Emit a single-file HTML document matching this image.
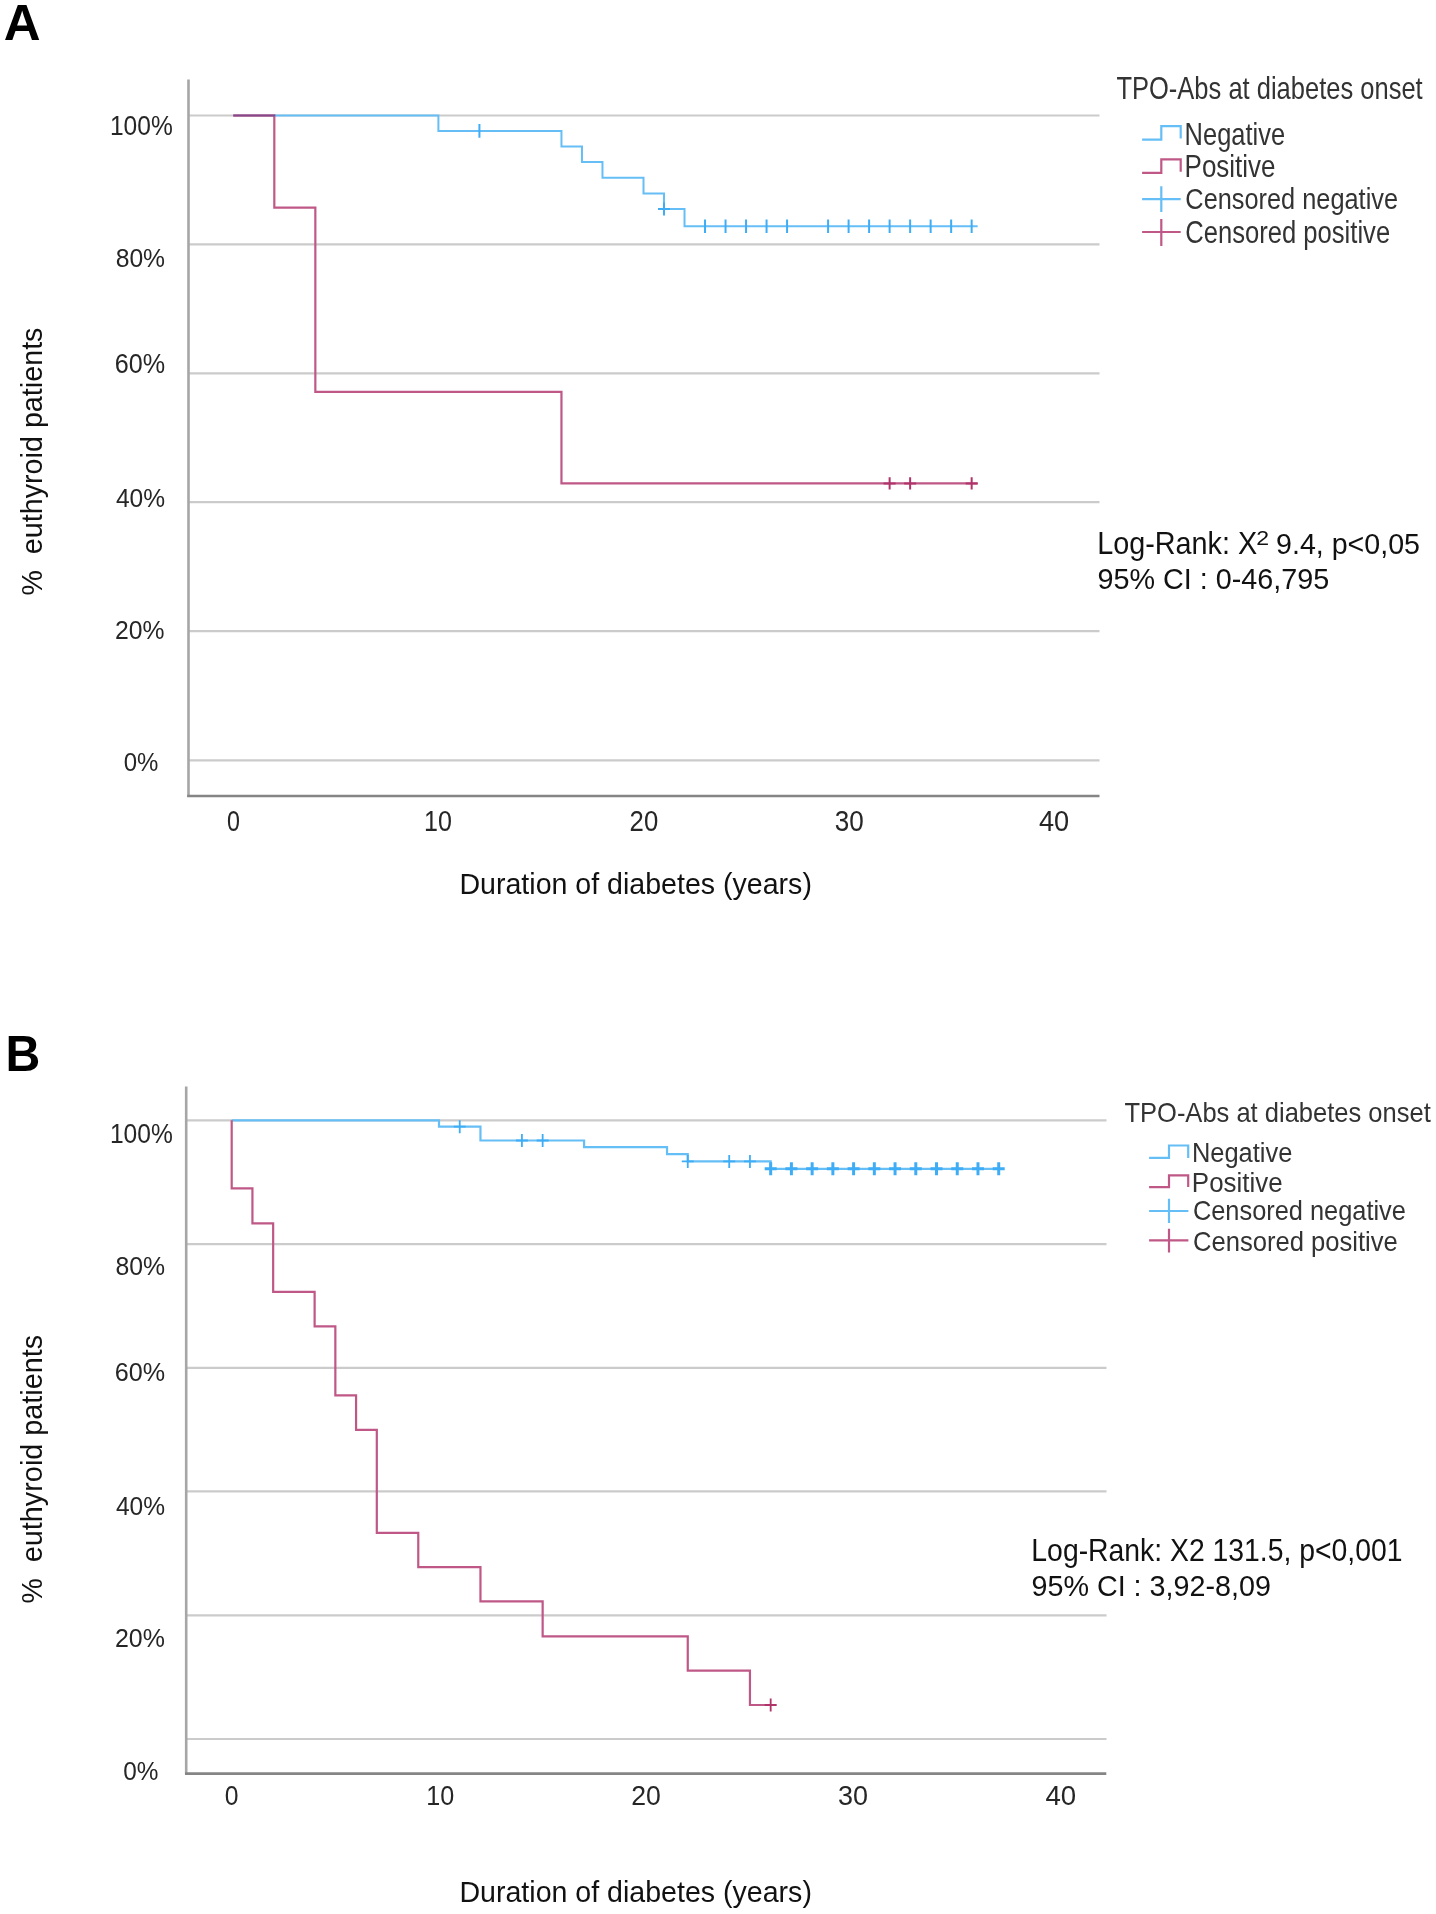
<!DOCTYPE html>
<html><head><meta charset="utf-8"><title>Kaplan-Meier curves</title>
<style>html,body{margin:0;padding:0;background:#fff;width:1436px;height:1914px;overflow:hidden}
text{font-family:"Liberation Sans",sans-serif}</style></head>
<body>
<svg width="1436" height="1914" viewBox="0 0 1436 1914" style="display:block;will-change:transform">
<rect width="100%" height="100%" fill="#fff"/>
<line x1="188" y1="115.5" x2="1099.5" y2="115.5" stroke="#cbcbcb" stroke-width="2.2"/>
<line x1="188" y1="244.3" x2="1099.5" y2="244.3" stroke="#cbcbcb" stroke-width="2.2"/>
<line x1="188" y1="373.3" x2="1099.5" y2="373.3" stroke="#cbcbcb" stroke-width="2.2"/>
<line x1="188" y1="502.1" x2="1099.5" y2="502.1" stroke="#cbcbcb" stroke-width="2.2"/>
<line x1="188" y1="631.2" x2="1099.5" y2="631.2" stroke="#cbcbcb" stroke-width="2.2"/>
<line x1="188" y1="760.3" x2="1099.5" y2="760.3" stroke="#cbcbcb" stroke-width="2.2"/>
<line x1="188.5" y1="79.5" x2="188.5" y2="797" stroke="#a6a6a6" stroke-width="2.6"/>
<line x1="187.2" y1="796" x2="1099.5" y2="796" stroke="#858585" stroke-width="2.6"/>
<path d="M233.30,115.50 H274.32 V207.70 H315.34 V391.80 H561.46 V483.40 H971.66 h6" fill="none" stroke="#bf5886" stroke-width="2.2"/>
<path d="M883.62,483.40 H895.62 M889.62,477.20 V489.60M904.13,483.40 H916.13 M910.13,477.20 V489.60M965.66,483.40 H977.66 M971.66,477.20 V489.60" fill="none" stroke="#b0336a" stroke-width="2"/>
<path d="M274.32,115.5 H438.40 V130.90 H561.46 V146.40 H581.97 V162.00 H602.48 V177.70 H643.50 V193.60 H664.01 V209.00 H684.52 V226.20 H971.66 h6" fill="none" stroke="#66bef6" stroke-width="2"/>
<line x1="233.30" y1="115.5" x2="275.32" y2="115.5" stroke="#86498c" stroke-width="2.2"/>
<path d="M479.42,124.10 V137.70M658.01,209.00 H670.01 M664.01,202.50 V215.50M705.03,219.40 V233.00M725.54,219.40 V233.00M746.05,219.40 V233.00M766.56,219.40 V233.00M787.07,219.40 V233.00M828.09,219.40 V233.00M848.60,219.40 V233.00M869.11,219.40 V233.00M889.62,219.40 V233.00M910.13,219.40 V233.00M930.64,219.40 V233.00M951.15,219.40 V233.00M971.66,219.40 V233.00" fill="none" stroke="#3fadf6" stroke-width="2"/>
<path d="M1142.1,139.6 H1161.3 V126.2 H1180.7 V138.4" fill="none" stroke="#66bef6" stroke-width="2.2"/>
<path d="M1142.1,172.8 H1161.3 V159.4 H1180.7 V171.8" fill="none" stroke="#bf5886" stroke-width="2.2"/>
<path d="M1142.1,199.2 H1180.7 M1161.3,186.3 V212.1" fill="none" stroke="#66bef6" stroke-width="2.2"/>
<path d="M1142.1,232 H1180.7 M1161.3,219.1 V246" fill="none" stroke="#bf5886" stroke-width="2.2"/>
<line x1="186" y1="1120.3" x2="1106.5" y2="1120.3" stroke="#cbcbcb" stroke-width="2.2"/>
<line x1="186" y1="1244.2" x2="1106.5" y2="1244.2" stroke="#cbcbcb" stroke-width="2.2"/>
<line x1="186" y1="1367.8" x2="1106.5" y2="1367.8" stroke="#cbcbcb" stroke-width="2.2"/>
<line x1="186" y1="1491.3" x2="1106.5" y2="1491.3" stroke="#cbcbcb" stroke-width="2.2"/>
<line x1="186" y1="1615.4" x2="1106.5" y2="1615.4" stroke="#cbcbcb" stroke-width="2.2"/>
<line x1="186" y1="1739.0" x2="1106.5" y2="1739.0" stroke="#cbcbcb" stroke-width="2.2"/>
<line x1="186.2" y1="1086.5" x2="186.2" y2="1774.5" stroke="#a6a6a6" stroke-width="2.6"/>
<line x1="185" y1="1773.6" x2="1106.3" y2="1773.6" stroke="#858585" stroke-width="2.6"/>
<path d="M231.70,1120.30 H439.00 V1126.70 H480.46 V1140.50 H584.11 V1147.10 H667.03 V1154.20 H687.76 V1161.40 H770.68 V1168.80 H998.71" fill="none" stroke="#66bef6" stroke-width="2.2"/>
<path d="M231.70,1120.30 H231.70 V1188.40 H252.43 V1223.40 H273.16 V1291.90 H314.62 V1326.40 H335.35 V1395.30 H356.08 V1429.80 H376.81 V1532.80 H418.27 V1567.10 H480.46 V1601.40 H542.65 V1636.30 H687.76 V1670.60 H749.95 V1705.00 H770.68" fill="none" stroke="#bf5886" stroke-width="2.2"/>
<path d="M764.68,1705.00 H776.68 M770.68,1698.50 V1711.50" fill="none" stroke="#b0336a" stroke-width="1.8"/>
<path d="M453.73,1126.70 H465.73 M459.73,1120.20 V1133.20M515.92,1140.50 H527.92 M521.92,1134.00 V1147.00M536.65,1140.50 H548.65 M542.65,1134.00 V1147.00M681.76,1161.40 H693.76 M687.76,1154.90 V1167.90M723.22,1161.40 H735.22 M729.22,1154.90 V1167.90M743.95,1161.40 H755.95 M749.95,1154.90 V1167.90" fill="none" stroke="#3fadf6" stroke-width="1.8"/>
<path d="M764.68,1168.80 H776.68 M770.68,1162.30 V1175.30M785.41,1168.80 H797.41 M791.41,1162.30 V1175.30M806.14,1168.80 H818.14 M812.14,1162.30 V1175.30M826.87,1168.80 H838.87 M832.87,1162.30 V1175.30M847.60,1168.80 H859.60 M853.60,1162.30 V1175.30M868.33,1168.80 H880.33 M874.33,1162.30 V1175.30M889.06,1168.80 H901.06 M895.06,1162.30 V1175.30M909.79,1168.80 H921.79 M915.79,1162.30 V1175.30M930.52,1168.80 H942.52 M936.52,1162.30 V1175.30M951.25,1168.80 H963.25 M957.25,1162.30 V1175.30M971.98,1168.80 H983.98 M977.98,1162.30 V1175.30M992.71,1168.80 H1004.71 M998.71,1162.30 V1175.30" fill="none" stroke="#3fadf6" stroke-width="3"/>
<path d="M1149.1,1157.9 H1169 V1145.5 H1188.2 V1157.9" fill="none" stroke="#66bef6" stroke-width="2.2"/>
<path d="M1149.1,1187.1 H1169 V1175.4 H1188.2 V1187.1" fill="none" stroke="#bf5886" stroke-width="2.2"/>
<path d="M1149.1,1211 H1188.4 M1169,1198.8 V1222.9" fill="none" stroke="#66bef6" stroke-width="2.2"/>
<path d="M1149.1,1240.4 H1188.4 M1169,1228.7 V1252.6" fill="none" stroke="#bf5886" stroke-width="2.2"/>
<g font-family="Liberation Sans, sans-serif" class="t">
<text transform="translate(3.78,39.90) scale(1.0055,1)" font-size="50.69" fill="#000" font-weight="bold">A</text>
<text transform="translate(109.96,135.03) scale(0.9011,1)" font-size="27.28" fill="#262626">100%</text>
<text transform="translate(115.65,266.93) scale(0.9298,1)" font-size="26.57" fill="#262626">80%</text>
<text transform="translate(114.74,372.83) scale(0.9372,1)" font-size="26.86" fill="#262626">60%</text>
<text transform="translate(115.95,506.93) scale(0.9241,1)" font-size="26.57" fill="#262626">40%</text>
<text transform="translate(115.06,639.04) scale(0.9517,1)" font-size="26.01" fill="#262626">20%</text>
<text transform="translate(123.64,771.44) scale(0.9324,1)" font-size="25.72" fill="#262626">0%</text>
<text transform="translate(226.97,830.71) scale(0.7907,1)" font-size="29.40" fill="#262626">0</text>
<text transform="translate(424.12,830.80) scale(0.8484,1)" font-size="29.54" fill="#262626">10</text>
<text transform="translate(629.61,830.80) scale(0.8707,1)" font-size="29.54" fill="#262626">20</text>
<text transform="translate(834.82,831.10) scale(0.8747,1)" font-size="29.82" fill="#262626">30</text>
<text transform="translate(1038.89,831.10) scale(0.9101,1)" font-size="29.82" fill="#262626">40</text>
<text transform="translate(459.44,894.10) scale(0.9489,1)" font-size="30.11" fill="#111111">Duration of diabetes (years)</text>
<text transform="translate(42.10,554.22) rotate(-90) scale(0.9735,1)" font-size="29.50" fill="#111111">euthyroid patients</text>
<text transform="translate(42.10,595.60) rotate(-90) scale(0.9703,1)" font-size="29.50" fill="#111111">%</text>
<text transform="translate(1116.43,99.25) scale(0.8294,1)" font-size="30.76" fill="#333333">TPO-Abs at diabetes onset</text>
<text transform="translate(1184.60,144.75) scale(0.8202,1)" font-size="31.05" fill="#333333">Negative</text>
<text transform="translate(1184.56,177.00) scale(0.8427,1)" font-size="30.84" fill="#333333">Positive</text>
<text transform="translate(1185.33,208.90) scale(0.8400,1)" font-size="30.18" fill="#333333">Censored negative</text>
<text transform="translate(1185.32,243.10) scale(0.8401,1)" font-size="30.46" fill="#333333">Censored positive</text>
<text transform="translate(1097.13,554.40) scale(0.9378,1)" font-size="30.69" fill="#111111">Log-Rank: X</text>
<text transform="translate(1256.35,545.20) scale(1.1835,1)" font-size="19.50" fill="#111111">2</text>
<text transform="translate(1276.04,554.00) scale(0.9595,1)" font-size="29.82" fill="#111111">9.4, p&lt;0,05</text>
<text transform="translate(1097.53,589.40) scale(0.9594,1)" font-size="29.96" fill="#111111">95% CI : 0-46,795</text>
<text transform="translate(5.45,1071.10) scale(0.9522,1)" font-size="50.62" fill="#000" font-weight="bold">B</text>
<text transform="translate(109.96,1142.83) scale(0.9058,1)" font-size="27.14" fill="#262626">100%</text>
<text transform="translate(115.45,1274.83) scale(0.9288,1)" font-size="26.71" fill="#262626">80%</text>
<text transform="translate(114.74,1380.73) scale(0.9472,1)" font-size="26.57" fill="#262626">60%</text>
<text transform="translate(115.95,1514.83) scale(0.9192,1)" font-size="26.71" fill="#262626">40%</text>
<text transform="translate(114.95,1647.14) scale(0.9495,1)" font-size="26.29" fill="#262626">20%</text>
<text transform="translate(123.33,1779.53) scale(0.9116,1)" font-size="26.71" fill="#262626">0%</text>
<text transform="translate(224.81,1804.93) scale(0.9012,1)" font-size="27.42" fill="#262626">0</text>
<text transform="translate(426.21,1805.13) scale(0.9272,1)" font-size="27.14" fill="#262626">10</text>
<text transform="translate(631.27,1805.33) scale(0.9802,1)" font-size="27.14" fill="#262626">20</text>
<text transform="translate(837.99,1805.33) scale(0.9933,1)" font-size="27.14" fill="#262626">30</text>
<text transform="translate(1045.48,1805.33) scale(1.0177,1)" font-size="27.14" fill="#262626">40</text>
<text transform="translate(459.44,1902.10) scale(0.9489,1)" font-size="30.11" fill="#111111">Duration of diabetes (years)</text>
<text transform="translate(42.10,1562.22) rotate(-90) scale(0.9769,1)" font-size="29.50" fill="#111111">euthyroid patients</text>
<text transform="translate(42.10,1603.60) rotate(-90) scale(0.9662,1)" font-size="29.50" fill="#111111">%</text>
<text transform="translate(1124.43,1121.60) scale(0.8953,1)" font-size="28.51" fill="#333333">TPO-Abs at diabetes onset</text>
<text transform="translate(1191.90,1162.40) scale(0.9027,1)" font-size="28.22" fill="#333333">Negative</text>
<text transform="translate(1191.86,1191.50) scale(0.9283,1)" font-size="27.93" fill="#333333">Positive</text>
<text transform="translate(1192.93,1220.13) scale(0.9258,1)" font-size="27.42" fill="#333333">Censored negative</text>
<text transform="translate(1192.92,1250.73) scale(0.9438,1)" font-size="27.14" fill="#333333">Censored positive</text>
<text transform="translate(1031.36,1560.60) scale(0.9238,1)" font-size="30.69" fill="#111111">Log-Rank: X2 131.5, p&lt;0,001</text>
<text transform="translate(1031.44,1595.90) scale(0.9634,1)" font-size="29.82" fill="#111111">95% CI : 3,92-8,09</text>
</g></svg>
</body></html>
